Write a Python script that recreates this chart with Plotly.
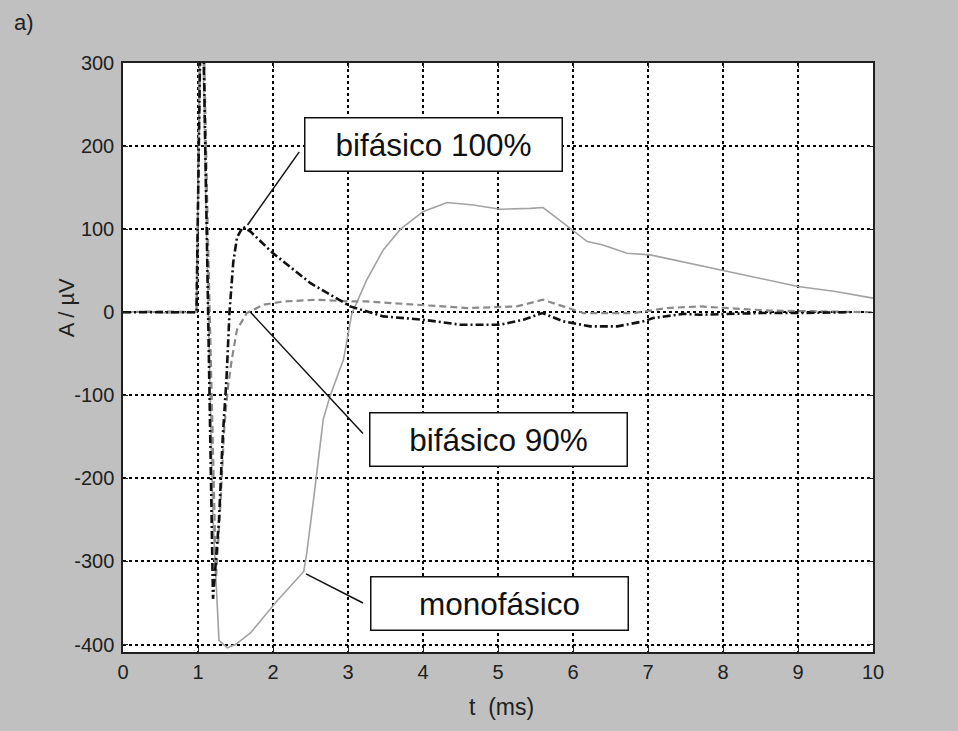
import plotly.graph_objects as go

# ---- data ----
t_mono = [0, 0.3, 0.6, 0.9, 0.98, 1.04, 1.10, 1.20, 1.28, 1.39, 1.5, 1.7, 2.05, 2.41, 2.45, 2.54,
          2.6, 2.67, 2.76, 2.94, 3.05, 3.25, 3.47, 3.7, 4.0, 4.32, 4.67, 5.03, 5.43, 5.52, 5.6,
          5.79, 5.99, 6.19, 6.4, 6.72, 7.03, 7.5, 8.0, 8.5, 9.0, 9.5, 10]
a_mono = [0, 1, -1, 0, 0, 450, 150, -250, -395, -404, -400, -386, -348, -312, -290, -226,
          -178, -129, -101, -57, -2, 39, 75, 100, 121, 132, 129, 124, 125, 126, 126,
          113, 99, 85, 81, 71, 69, 60, 51, 41, 31, 25, 17]

t_bi100 = [0, 0.5, 0.98, 1.05, 1.12, 1.2, 1.28, 1.33, 1.38, 1.42, 1.47, 1.52, 1.6, 1.7, 2.0,
           2.5, 3.03, 3.47, 4.0, 4.5, 5.03, 5.34, 5.59, 5.87, 6.23, 6.59, 6.94, 7.07, 7.47,
           7.7, 8.5, 9.0, 9.7]
a_bi100 = [0, 0, 0, 450, 100, -345, -250, -150, -80, 0, 60, 90, 103, 97, 71,
           35, 7, -5, -9, -15, -15, -9, -1, -11, -17, -17, -11, -7, -2,
           -3, -1, -1, 0]

t_bi90 = [0, 0.5, 0.98, 1.05, 1.13, 1.24, 1.3, 1.35, 1.4, 1.45, 1.52, 1.65, 1.87, 2.14, 2.59,
          3.03, 3.25, 3.92, 4.59, 5.25, 5.6, 5.87, 6.14, 6.81, 7.25, 7.7, 8.6, 10]
a_bi90 = [0, 1, 0, 450, 100, -320, -230, -140, -90, -57, -21, -1, 9, 13, 15,
          13, 13, 9, 5, 7, 15, 7, -1, -1, 5, 7, 2, 0]

x_ticks = [0, 1, 2, 3, 4, 5, 6, 7, 8, 9, 10]
y_ticks = [-400, -300, -200, -100, 0, 100, 200, 300]

# labels: (text, box centre x, box centre y, leader from (x0,y0) to (x1,y1))
labels = [
    ("bifásico 100%", 4.14, 202, 2.35, 193, 1.66, 105),
    ("bifásico 90%", 5.0, -153, 1.70, 0, 3.2, -146),
    ("monofásico", 5.02, -351, 2.44, -315, 3.2, -350),
]

FONT = "Arial, Liberation Sans, sans-serif"

fig = go.Figure()
fig.add_trace(go.Scatter(x=t_mono, y=a_mono, mode="lines",
                         line=dict(color="#a2a2a2", width=1.6), name="monofásico"))
fig.add_trace(go.Scatter(x=t_bi90, y=a_bi90, mode="lines",
                         line=dict(color="#8a8a8a", width=2.2, dash="7px,4px"), name="bifásico 90%"))
fig.add_trace(go.Scatter(x=t_bi100, y=a_bi100, mode="lines",
                         line=dict(color="#111111", width=2.6, dash="8px,3px,2px,3px"),
                         name="bifásico 100%"))

for text, cx, cy, x0, y0, x1, y1 in labels:
    fig.add_shape(type="line", xref="x", yref="y", x0=x0, y0=y0, x1=x1, y1=y1,
                  line=dict(color="#111111", width=1.5))
    fig.add_annotation(x=cx, y=cy, xref="x", yref="y", text=text, showarrow=False,
                       xanchor="center", yanchor="middle",
                       font=dict(family=FONT, size=31.5, color="#111111"),
                       bgcolor="white", bordercolor="#111111", borderwidth=1.5,
                       borderpad=0, width=256, height=52, align="center", valign="middle")

fig.add_annotation(x=-0.148, y=1.069, xref="paper", yref="paper", text="a)", showarrow=False,
                   xanchor="left", yanchor="middle", font=dict(family=FONT, size=22, color="#202020"))
fig.add_annotation(x=-0.0756, y=5, xref="paper", yref="y", text="A / µV", showarrow=False,
                   xanchor="center", yanchor="middle",
                   textangle=-90, font=dict(family=FONT, size=22, color="#202020"))
fig.add_annotation(x=0.504, y=-0.093, xref="paper", yref="paper", text="t  (ms)", showarrow=False,
                   xanchor="center", yanchor="middle",
                   font=dict(family=FONT, size=23, color="#202020"))

axis_common = dict(showline=True, linecolor="#202020", linewidth=1.5, mirror="ticks",
                   ticks="inside", ticklen=5, tickwidth=1.2, tickcolor="#202020",
                   showgrid=True, gridcolor="#000000", gridwidth=1.8, griddash="3px,3px",
                   zeroline=False, tickfont=dict(family=FONT, size=20, color="#202020"))

fig.update_xaxes(range=[0, 10], tickvals=x_ticks, ticktext=[str(v) for v in x_ticks],
                 ticklabelstandoff=1, **axis_common)
fig.update_yaxes(range=[-409, 300], tickvals=y_ticks, ticktext=[str(v) for v in y_ticks],
                 ticklabelstandoff=3, **axis_common)

fig.update_layout(width=958, height=731, paper_bgcolor="#c0c0c0", plot_bgcolor="white",
                  margin=dict(l=123, r=85, t=63, b=79), showlegend=False,
                  font=dict(family=FONT))

fig.write_html("out.html", config={"displayModeBar": False},
               post_script="document.body.style.margin='0';"
                           "document.body.style.background='#c0c0c0';"
                           "document.body.style.overflow='hidden';")
